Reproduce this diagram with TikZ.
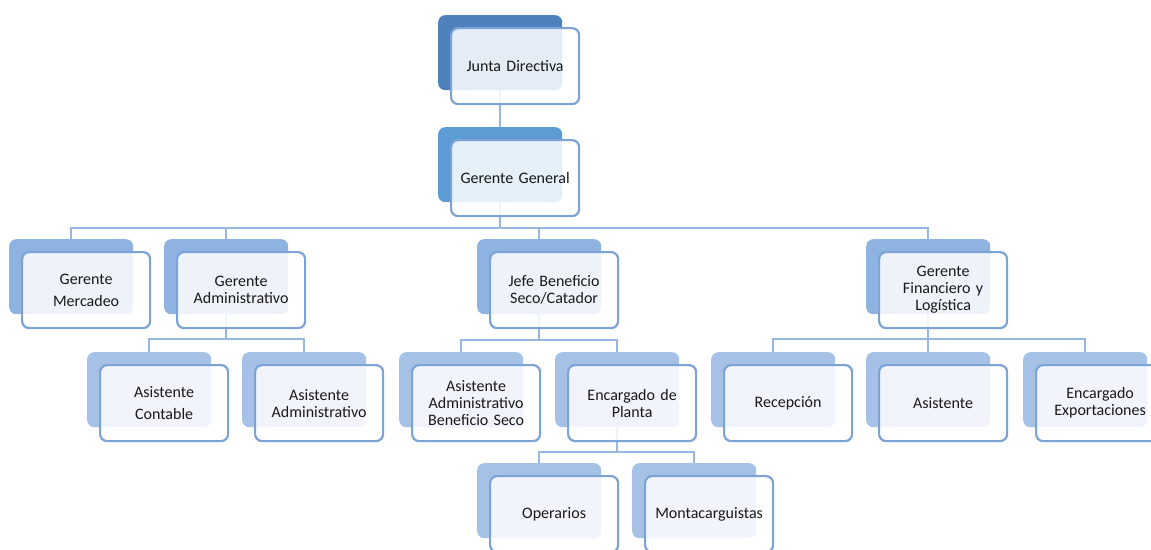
\documentclass[tikz,border=0pt]{standalone}
\usepackage{fontspec}
\setmainfont{Carlito}
\newfontfamily\boxfont{Carlito}[WordSpace={0.55,0,0}]
\definecolor{c1}{RGB}{79,129,189}
\definecolor{c2}{RGB}{93,155,213}
\definecolor{c3}{RGB}{142,179,224}
\definecolor{c4}{RGB}{165,194,230}
\definecolor{bord}{RGB}{124,163,213}
\definecolor{linec}{RGB}{150,183,225}
\tikzset{
  back/.style={draw=none, rounded corners=7pt, minimum width=124pt, minimum height=75pt, inner sep=0pt, anchor=north west},
  front/.style={draw=bord, line width=2.2pt, fill=white, fill opacity=0.85, text opacity=1, rounded corners=7pt,
    minimum width=128pt, minimum height=76pt, anchor=north west, align=center, text width=124pt, inner sep=0pt,
    font=\boxfont\fontsize{16}{17}\selectfont, text=black!90},
  conn/.style={draw=linec, line width=2.2pt},
}
\newcommand\frontbox[2]{\node[front] (#1) at ([shift={(12pt,-12pt)}]#1b.north west) {#2};}
\begin{document}
\begin{tikzpicture}[x=1pt,y=-1pt]
\useasboundingbox (0,0) rectangle (1151,549);
% back rectangles
\node[back, fill=c1] (jdb) at (438,15) {};
\node[back, fill=c2] (ggb) at (438,127) {};
\node[back, fill=c3] (gmb) at (9,239) {};
\node[back, fill=c3] (gab) at (164,239) {};
\node[back, fill=c3] (jbb) at (477,239) {};
\node[back, fill=c3] (gfb) at (866,239) {};
\node[back, fill=c4] (acb) at (87,352) {};
\node[back, fill=c4] (aab) at (242,352) {};
\node[back, fill=c4] (absb) at (399,352) {};
\node[back, fill=c4] (epb) at (555,352) {};
\node[back, fill=c4] (reb) at (711,352) {};
\node[back, fill=c4] (asb) at (866,352) {};
\node[back, fill=c4] (eeb) at (1023,352) {};
\node[back, fill=c4] (opb) at (477,463) {};
\node[back, fill=c4] (mob) at (632,463) {};
% buses
\coordinate (bus1) at (0,228);
\coordinate (bus2) at (0,339);
\coordinate (bus3) at (0,340);
\coordinate (bus4) at (0,452);
% connectors
\draw[conn] (jdb.south) -- (ggb.north);
\foreach \c in {gmb,gab,jbb,gfb} \draw[conn] (ggb.south) -- (ggb.south |- bus1) -| (\c.north);
\foreach \c in {acb,aab} \draw[conn] (gab.south) -- (gab.south |- bus2) -| (\c.north);
\foreach \c in {absb,epb} \draw[conn] (jbb.south) -- (jbb.south |- bus3) -| (\c.north);
\foreach \c in {reb,asb,eeb} \draw[conn] (gfb.south) -- (gfb.south |- bus2) -| (\c.north);
\foreach \c in {opb,mob} \draw[conn] (epb.south) -- (epb.south |- bus4) -| (\c.north);
% front boxes
\frontbox{jd}{Junta Directiva}
\frontbox{gg}{Gerente General}
\frontbox{gm}{Gerente\\[5pt]Mercadeo}
\frontbox{ga}{Gerente\\Administrativo}
\frontbox{jb}{Jefe Beneficio\\Seco/Catador}
\frontbox{gf}{Gerente\\Financiero y\\Logística}
\frontbox{ac}{Asistente\\[5pt]Contable}
\frontbox{aa}{Asistente\\Administrativo}
\frontbox{abs}{Asistente\\Administrativo\\Beneficio Seco}
\frontbox{ep}{Encargado de\\Planta}
\frontbox{re}{Recepción}
\frontbox{as}{Asistente}
\frontbox{ee}{Encargado\\Exportaciones}
\frontbox{op}{Operarios}
\frontbox{mo}{Montacarguistas}
\end{tikzpicture}
\end{document}
